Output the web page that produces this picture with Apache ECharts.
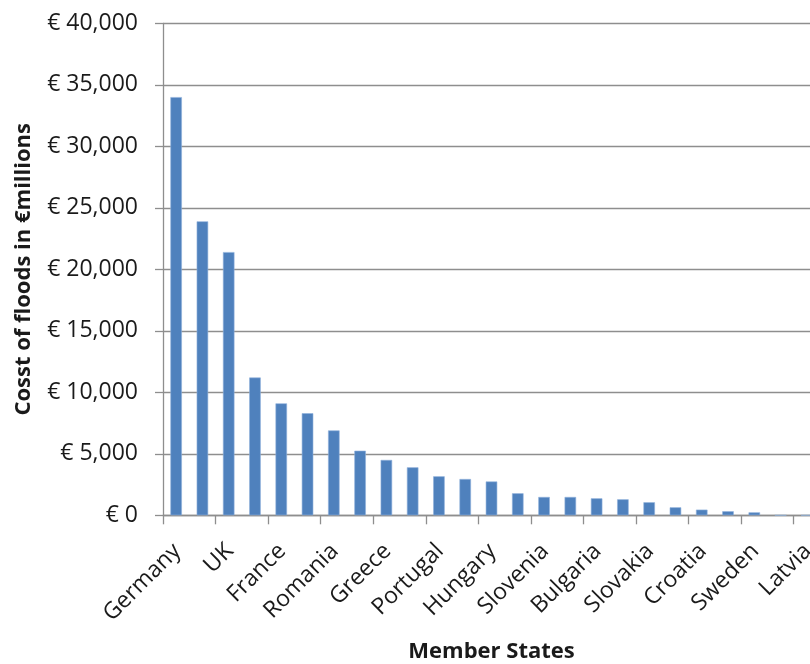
<!DOCTYPE html>
<html>
<head>
<meta charset="utf-8">
<script src="https://cdn.jsdelivr.net/npm/echarts@6/dist/echarts.min.js"></script>
<style>
  html, body { margin: 0; padding: 0; background: #ffffff; }
  #chart { width: 810px; height: 664px; }
</style>
</head>
<body>
<div id="chart"></div>
<script>
// Estimated flood costs per EU member state (millions of euro)
const memberStates = [
  'Germany', 'Italy', 'UK', 'Poland', 'France', 'Austria', 'Romania',
  'Czech Republic', 'Greece', 'Belgium', 'Portugal', 'Spain', 'Hungary',
  'Netherlands', 'Slovenia', 'Ireland', 'Bulgaria', 'Lithuania', 'Slovakia',
  'Denmark', 'Croatia', 'Finland', 'Sweden', 'Luxembourg', 'Latvia'
];
const floodCost = [
  34000, 23900, 21400, 11200, 9100, 8300, 6900,
  5250, 4500, 3900, 3170, 2950, 2750,
  1790, 1490, 1490, 1380, 1300, 1060,
  650, 460, 330, 240, 0, 0
];
const yMin = 0;
const yMax = 40000;
const yStep = 5000;

const axisGrey = '#8e8e8e';
const textColor = '#1a1a1a';
const fontFamily = '"Open Sans", "Noto Sans", sans-serif';

const chart = echarts.init(document.getElementById('chart'), null, { renderer: 'canvas' });

chart.setOption({
  animation: false,
  backgroundColor: '#ffffff',
  // the plot runs a little past the right edge of the canvas; keep the
  // grid rectangle fixed instead of shrinking it to fit the labels
  grid: {
    left: 163, width: 657, top: 23.3, bottom: 148.7,
    containLabel: false,
    outerBoundsMode: 'none'
  },
  xAxis: {
    type: 'category',
    data: memberStates,
    name: 'Member States',
    nameLocation: 'middle',
    nameGap: 125,
    nameTextStyle: { fontFamily, fontSize: 22, fontWeight: 'bold', color: textColor },
    axisLine: { show: true, lineStyle: { color: axisGrey, width: 1.3 } },
    axisTick: { show: true, length: 9, lineStyle: { color: axisGrey, width: 1.3 } },
    axisLabel: {
      interval: 1,
      rotate: 45,
      margin: 17,
      padding: [0, 10, 0, 0],
      align: 'right',
      verticalAlign: 'top',
      fontFamily,
      fontSize: 23,
      color: textColor
    }
  },
  yAxis: {
    type: 'value',
    min: yMin,
    max: yMax,
    interval: yStep,
    name: 'Cosst of floods in €millions',
    nameLocation: 'middle',
    nameGap: 128,
    nameTextStyle: { fontFamily, fontSize: 22, fontWeight: 'bold', color: textColor },
    axisLine: { show: true, lineStyle: { color: axisGrey, width: 1.3 } },
    axisTick: { show: true, length: 8, lineStyle: { color: axisGrey, width: 1.3 } },
    splitLine: { show: true, lineStyle: { color: axisGrey, width: 1.3 } },
    axisLabel: {
      margin: 25,
      fontFamily,
      fontSize: 23,
      color: textColor,
      formatter: v => '€ ' + v.toLocaleString('en-US')
    }
  },
  series: [{
    type: 'bar',
    data: floodCost,
    barWidth: 11.5,
    itemStyle: { color: '#4f81bd', borderColor: '#8fb0dc', borderWidth: 0.6 }
  }]
});
</script>
</body>
</html>
